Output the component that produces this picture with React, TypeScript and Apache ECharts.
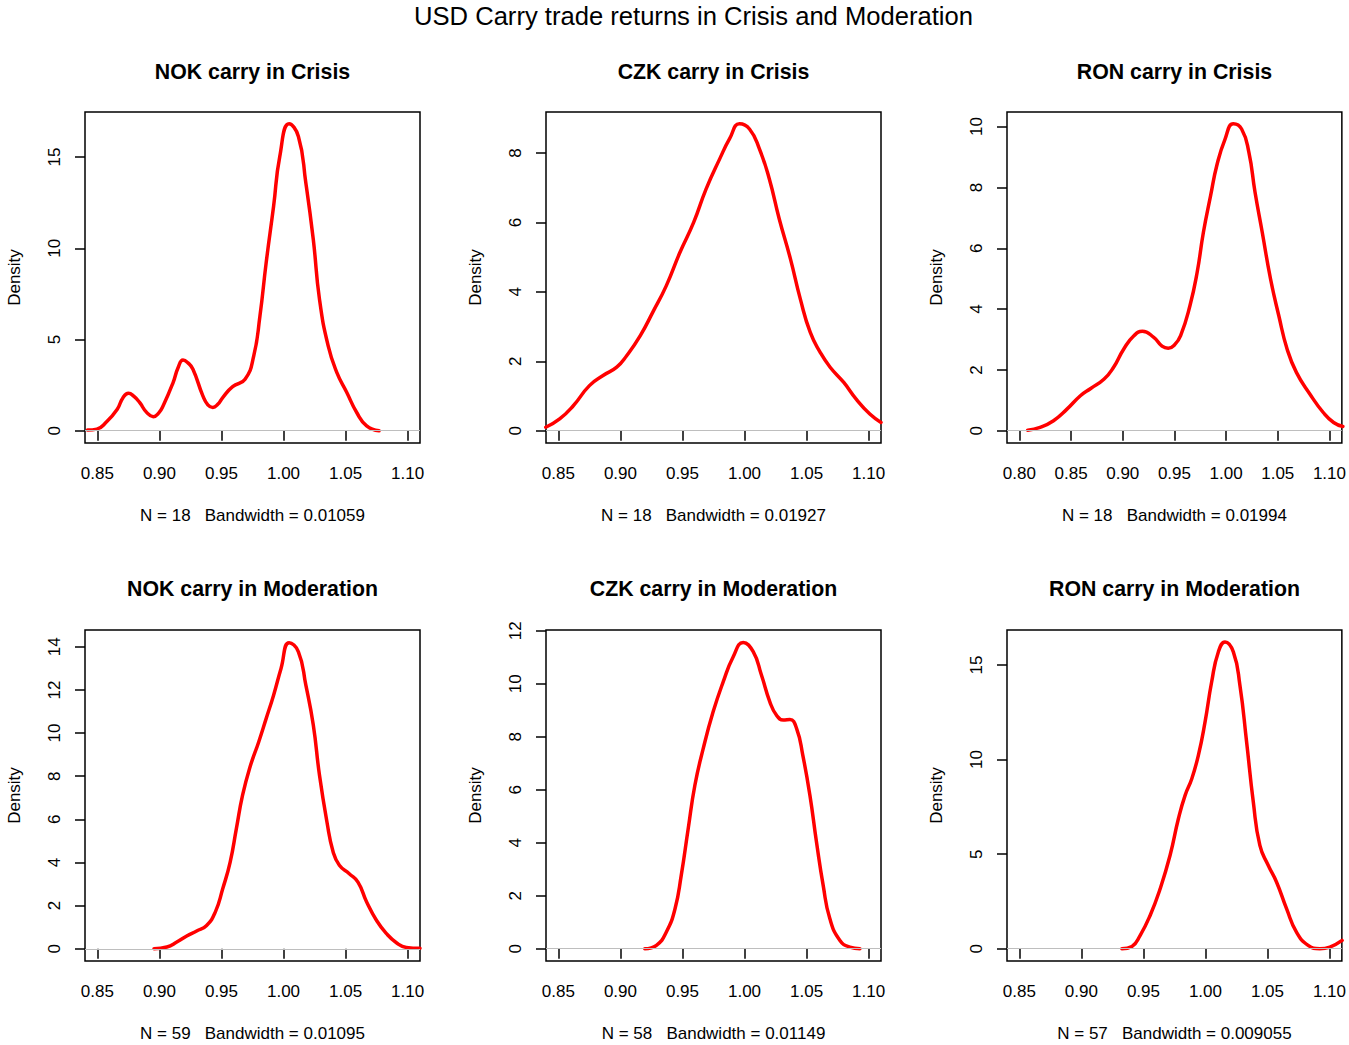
import React, { useEffect, useRef } from "react";
import * as echarts from "echarts";

// ---- data ----
const nokCrisis: number[][] = [
  [0.842, 0.04], [0.8495, 0.09], [0.857, 0.46], [0.866, 1.18], [0.8705, 1.8], [0.875, 2.06],
  [0.8795, 1.88], [0.884, 1.55], [0.8895, 1.02], [0.895, 0.77], [0.8995, 0.98], [0.903, 1.37],
  [0.911, 2.64], [0.915, 3.45], [0.919, 3.88], [0.923, 3.72], [0.927, 3.37], [0.935, 1.91],
  [0.939, 1.42], [0.943, 1.28], [0.947, 1.45], [0.951, 1.82], [0.959, 2.42], [0.969, 2.82],
  [0.976, 4.1], [0.981, 6.29], [0.986, 9.2], [0.992, 12.3], [0.997, 15.04], [1.0045, 16.82],
  [1.012, 16.13], [1.018, 13.58], [1.024, 10.48], [1.029, 7.2], [1.036, 4.65], [1.043, 3.19],
  [1.051, 2.1], [1.059, 1.0], [1.067, 0.27], [1.077, 0.0],
];
const czkCrisis: number[][] = [
  [0.8398, 0.1], [0.851, 0.34], [0.862, 0.72], [0.875, 1.3], [0.886, 1.59], [0.897, 1.83],
  [0.905, 2.16], [0.916, 2.74], [0.926, 3.41], [0.937, 4.18], [0.948, 5.14], [0.959, 6.0],
  [0.969, 6.96], [0.98, 7.83], [0.988, 8.41], [0.996, 8.84], [1.004, 8.69], [1.012, 8.12],
  [1.02, 7.25], [1.028, 6.1], [1.037, 4.95], [1.045, 3.79], [1.053, 2.83], [1.061, 2.26],
  [1.069, 1.83], [1.08, 1.39], [1.09, 0.91], [1.101, 0.48], [1.11, 0.24],
];
const ronCrisis: number[][] = [
  [0.808, 0.02], [0.82, 0.11], [0.833, 0.33], [0.846, 0.71], [0.859, 1.15], [0.869, 1.39],
  [0.882, 1.7], [0.891, 2.08], [0.901, 2.69], [0.911, 3.13], [0.919, 3.27], [0.93, 3.07],
  [0.938, 2.78], [0.944, 2.71], [0.95, 2.82], [0.956, 3.13], [0.965, 4.11], [0.972, 5.21],
  [0.978, 6.52], [0.985, 7.73], [0.991, 8.72], [0.999, 9.59], [1.007, 10.09], [1.015, 9.92],
  [1.022, 9.16], [1.028, 7.84], [1.035, 6.52], [1.043, 4.99], [1.051, 3.78], [1.059, 2.69],
  [1.068, 1.92], [1.081, 1.21], [1.094, 0.6], [1.104, 0.27], [1.113, 0.14],
];
const nokModeration: number[][] = [
  [0.8956, 0.0], [0.906, 0.08], [0.914, 0.31], [0.922, 0.59], [0.93, 0.82], [0.938, 1.08],
  [0.945, 1.7], [0.951, 2.78], [0.957, 4.02], [0.962, 5.57], [0.967, 7.12], [0.973, 8.43],
  [0.98, 9.59], [0.986, 10.67], [0.992, 11.76], [0.998, 13.0], [1.0045, 14.19], [1.012, 13.77],
  [1.018, 12.22], [1.024, 10.37], [1.029, 8.04], [1.035, 5.88], [1.04, 4.49], [1.045, 3.87],
  [1.053, 3.48], [1.06, 3.09], [1.067, 2.17], [1.075, 1.31], [1.083, 0.7], [1.091, 0.28],
  [1.099, 0.06], [1.11, 0.02],
];
const czkModeration: number[][] = [
  [0.9196, 0.0], [0.929, 0.13], [0.937, 0.63], [0.944, 1.51], [0.949, 2.77], [0.9546, 4.53],
  [0.96, 6.17], [0.9667, 7.55], [0.9747, 8.94], [0.9828, 10.07], [0.9909, 11.02], [0.9989, 11.56],
  [1.007, 11.21], [1.0137, 10.32], [1.0204, 9.32], [1.0258, 8.81], [1.0312, 8.63], [1.0366, 8.65],
  [1.042, 8.31], [1.047, 7.3], [1.0527, 5.79], [1.058, 4.03], [1.0634, 2.39], [1.0688, 1.13],
  [1.0769, 0.31], [1.0849, 0.06], [1.093, 0.0],
];
const ronModeration: number[][] = [
  [0.9326, 0.0], [0.9407, 0.12], [0.9474, 0.71], [0.9554, 1.76], [0.9635, 3.17], [0.9715, 4.94],
  [0.9782, 6.87], [0.9836, 8.11], [0.989, 8.99], [0.9943, 10.22], [0.9997, 11.99], [1.005, 14.1],
  [1.0104, 15.69], [1.0158, 16.22], [1.0225, 15.69], [1.0278, 13.93], [1.0332, 10.93], [1.0386, 7.76],
  [1.0439, 5.46], [1.0506, 4.41], [1.0573, 3.53], [1.0654, 2.12], [1.0734, 0.88], [1.0828, 0.18],
  [1.0922, 0.0], [1.1003, 0.09], [1.1102, 0.44],
];

const panelTitles = [
  "NOK carry in Crisis", "CZK carry in Crisis", "RON carry in Crisis",
  "NOK carry in Moderation", "CZK carry in Moderation", "RON carry in Moderation",
];
const sampleSizes = [18, 18, 18, 59, 58, 57];
const bandwidths = ["0.01059", "0.01927", "0.01994", "0.01095", "0.01149", "0.009055"];

const xTicksA = [0.85, 0.9, 0.95, 1.0, 1.05, 1.1];
const xTicksB = [0.8, 0.85, 0.9, 0.95, 1.0, 1.05, 1.1];
const yTicksNokCrisis = [0, 5, 10, 15];
const yTicksCzkCrisis = [0, 2, 4, 6, 8];
const yTicksRonCrisis = [0, 2, 4, 6, 8, 10];
const yTicksNokModeration = [0, 2, 4, 6, 8, 10, 12, 14];
const yTicksCzkModeration = [0, 2, 4, 6, 8, 10, 12];
const yTicksRonModeration = [0, 5, 10, 15];

// axis limits (R style: data limits extended by 4%)
const xLimA = [0.84, 1.11];
const xLimB = [0.788, 1.112];
const yLimNokCrisis = [-0.672, 17.47];
const yLimCzkCrisis = [-0.353, 9.18];
const yLimRonCrisis = [-0.403, 10.48];
const yLimNokModeration = [-0.568, 14.78];
const yLimCzkModeration = [-0.463, 12.03];
const yLimRonModeration = [-0.648, 16.85];

const mainTitle = "USD Carry trade returns in Crisis and Moderation";

const FONT = '"Liberation Sans", Arial, Helvetica, sans-serif';

export default function App() {
  const ref = useRef<HTMLDivElement>(null);

  useEffect(() => {
    if (!ref.current) return;
    const chart = echarts.init(ref.current, undefined, { renderer: "svg" });

    const panels = [
      { data: nokCrisis, xt: xTicksA, xl: xLimA, yt: yTicksNokCrisis, yl: yLimNokCrisis },
      { data: czkCrisis, xt: xTicksA, xl: xLimA, yt: yTicksCzkCrisis, yl: yLimCzkCrisis },
      { data: ronCrisis, xt: xTicksB, xl: xLimB, yt: yTicksRonCrisis, yl: yLimRonCrisis },
      { data: nokModeration, xt: xTicksA, xl: xLimA, yt: yTicksNokModeration, yl: yLimNokModeration },
      { data: czkModeration, xt: xTicksA, xl: xLimA, yt: yTicksCzkModeration, yl: yLimCzkModeration },
      { data: ronModeration, xt: xTicksA, xl: xLimA, yt: yTicksRonModeration, yl: yLimRonModeration },
    ];

    const lefts = [85, 546, 1007];
    const tops = [112, 630];
    const W = 335;
    const H = 331;

    const grids: any[] = [];
    const xAxes: any[] = [];
    const yAxes: any[] = [];
    const series: any[] = [];
    const graphics: any[] = [
      {
        type: "text",
        x: 693.5,
        y: 16,
        style: {
          text: mainTitle,
          fontSize: 25.6,
          fontFamily: FONT,
          fill: "#000",
          textAlign: "center",
          textVerticalAlign: "middle",
        },
      },
    ];

    panels.forEach((p, i) => {
      const col = i % 3;
      const row = Math.floor(i / 3);
      const left = lefts[col];
      const top = tops[row];
      grids.push({
        left,
        top,
        width: W,
        height: H,
        show: true,
        borderColor: "#000",
        borderWidth: 1.5,
        backgroundColor: "transparent",
        containLabel: false,
      });
      xAxes.push({
        gridIndex: i,
        type: "value",
        min: p.xl[0],
        max: p.xl[1],
        axisLine: { show: false },
        splitLine: { show: false },
        axisTick: {
          show: true,
          length: 10,
          customValues: p.xt,
          lineStyle: { color: "#000", width: 1.5 },
        },
        axisLabel: {
          show: true,
          customValues: p.xt,
          formatter: (v: number) => v.toFixed(2),
          margin: 22,
          fontSize: 17,
          color: "#000",
          fontFamily: FONT,
        },
        name: `N = ${sampleSizes[i]}   Bandwidth = ${bandwidths[i]}`,
        nameLocation: "middle",
        nameGap: 64,
        nameTextStyle: { fontSize: 17, color: "#000", fontFamily: FONT },
      });
      yAxes.push({
        gridIndex: i,
        type: "value",
        min: p.yl[0],
        max: p.yl[1],
        axisLine: { show: false },
        splitLine: { show: false },
        axisTick: {
          show: true,
          length: 10,
          customValues: p.yt,
          lineStyle: { color: "#000", width: 1.5 },
        },
        axisLabel: {
          show: true,
          customValues: p.yt,
          formatter: (v: number) => String(v),
          rotate: 90,
          margin: 22,
          fontSize: 17,
          color: "#000",
          fontFamily: FONT,
        },
        name: "Density",
        nameLocation: "middle",
        nameRotate: 90,
        nameGap: 62,
        nameTextStyle: { fontSize: 17, color: "#000", fontFamily: FONT },
      });
      series.push({
        type: "line",
        xAxisIndex: i,
        yAxisIndex: i,
        data: p.data,
        showSymbol: false,
        smooth: 0.5,
        lineStyle: { color: "#FF0000", width: 3.5, cap: "round", join: "round" },
        z: 2,
        markLine: {
          silent: true,
          symbol: "none",
          label: { show: false },
          lineStyle: { color: "#BEBEBE", width: 1, type: "solid" },
          data: [{ yAxis: 0 }],
          z: 3,
        },
      });
      graphics.push({
        type: "text",
        x: left + W / 2,
        y: row === 0 ? 71.5 : 588.5,
        style: {
          text: panelTitles[i],
          fontSize: 21.3,
          fontWeight: "bold",
          fontFamily: FONT,
          fill: "#000",
          textAlign: "center",
          textVerticalAlign: "middle",
        },
      });
    });

    chart.setOption({
      animation: false,
      backgroundColor: "#fff",
      grid: grids,
      xAxis: xAxes,
      yAxis: yAxes,
      series,
      graphic: graphics,
    });

    return () => chart.dispose();
  }, []);

  return (
    <div
      ref={ref}
      style={{ position: "absolute", left: 0, top: 0, width: 1349, height: 1045 }}
    />
  );
}
